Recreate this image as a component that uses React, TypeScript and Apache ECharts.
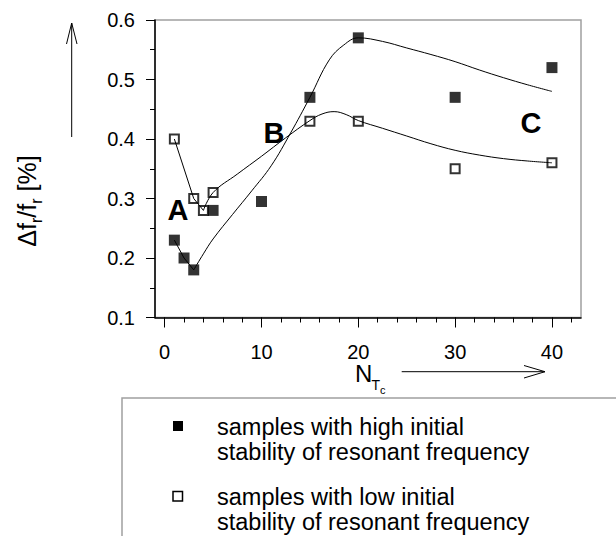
import React, { useEffect, useRef } from "react";
import * as echarts from "echarts";

// measured samples
const highX = [1, 2, 3, 5, 10, 15, 20, 30, 40];
const highY = [0.23, 0.2, 0.18, 0.28, 0.295, 0.47, 0.57, 0.47, 0.52];
const lowX = [1, 3, 4, 5, 15, 20, 30, 40];
const lowY = [0.4, 0.3, 0.28, 0.31, 0.43, 0.43, 0.35, 0.36];

// straight connections at low N
const highLinkX = [1, 2, 3];
const highLinkY = [0.23, 0.2, 0.18];
const lowLinkX = [1, 3, 4];
const lowLinkY = [0.4, 0.3, 0.28];

// fitted curves
const highFitX = [3, 4, 5, 7, 9, 11, 13, 15, 17, 18.5, 20, 22.5, 25, 27.5, 30, 32.5, 35, 37.5, 40];
const highFitY = [0.18, 0.207, 0.232, 0.273, 0.313, 0.355, 0.41, 0.47, 0.533, 0.558, 0.57, 0.564, 0.553, 0.542, 0.53, 0.516, 0.503, 0.491, 0.48];
const lowFitX = [4, 5, 7.5, 10, 12.5, 15, 16.25, 17.5, 18.75, 20, 22.5, 25, 27.5, 30, 32.5, 35, 37.5, 40];
const lowFitY = [0.28, 0.31, 0.341, 0.371, 0.402, 0.431, 0.442, 0.446, 0.441, 0.431, 0.418, 0.405, 0.392, 0.381, 0.373, 0.367, 0.363, 0.36];

const xMajorTicks = [0, 10, 20, 30, 40];
const xMinorTicks = [0, 2, 4, 6, 8, 10, 12, 14, 16, 18, 20, 22, 24, 26, 28, 30, 32, 34, 36, 38, 40, 42];

const legendHigh = ["samples with high initial", "stability of resonant frequency"];
const legendLow = ["samples with low initial", "stability of resonant frequency"];

const FONT = "'Liberation Sans', Arial, sans-serif";

const zip = (xs: number[], ys: number[]) => xs.map((x, i) => [x, ys[i]]);

export default function App() {
  const ref = useRef<HTMLDivElement>(null);
  useEffect(() => {
    document.body.style.margin = "0";
    const chart = echarts.init(ref.current!, null, { renderer: "svg" });
    const lineCommon = {
      type: "line",
      symbol: "none",
      lineStyle: { color: "#000", width: 1 },
      z: 4,
      silent: true,
    };
    const textBase = { fill: "#000", fontFamily: FONT };
    chart.setOption({
      animation: false,
      backgroundColor: "#fff",
      grid: {
        left: 155,
        top: 20,
        width: 426,
        height: 297.5,
        show: true,
        borderColor: "#a0a0a0",
        borderWidth: 1.5,
        backgroundColor: "transparent",
      },
      xAxis: [
        {
          type: "value",
          min: -1,
          max: 43,
          position: "bottom",
          axisLine: { show: true, onZero: false, lineStyle: { color: "#000", width: 1.5 } },
          axisTick: { show: true, customValues: xMajorTicks, length: 10, lineStyle: { color: "#000", width: 1 } },
          axisLabel: { customValues: xMajorTicks, fontSize: 20, color: "#000", margin: 24, fontFamily: FONT },
          splitLine: { show: false },
        },
        {
          type: "value",
          min: -1,
          max: 43,
          position: "bottom",
          axisLine: { show: false, onZero: false },
          axisTick: { show: true, customValues: xMinorTicks, length: 5, lineStyle: { color: "#000", width: 1 } },
          axisLabel: { show: false },
          splitLine: { show: false },
        },
      ],
      yAxis: {
        type: "value",
        min: 0.1,
        max: 0.6,
        interval: 0.1,
        axisLine: { show: true, onZero: false, lineStyle: { color: "#000", width: 1.5 } },
        axisTick: { show: true, length: 9, lineStyle: { color: "#000", width: 1 } },
        minorTick: { show: true, splitNumber: 2, length: 5, lineStyle: { color: "#000", width: 1 } },
        axisLabel: {
          fontSize: 20,
          color: "#000",
          margin: 20,
          fontFamily: FONT,
          formatter: (v: number) => v.toFixed(1),
        },
        splitLine: { show: false },
        minorSplitLine: { show: false },
      },
      series: [
        {
          name: "high",
          type: "scatter",
          symbol: "rect",
          symbolSize: 11,
          itemStyle: { color: "#000" },
          data: zip(highX, highY),
          z: 3,
        },
        {
          name: "low",
          type: "scatter",
          symbol: "rect",
          symbolSize: 9,
          itemStyle: { color: "#fff", borderColor: "#000", borderWidth: 2 },
          data: zip(lowX, lowY),
          z: 3,
        },
        { ...lineCommon, name: "highLink", data: zip(highLinkX, highLinkY) },
        { ...lineCommon, name: "highFit", smooth: 0.4, data: zip(highFitX, highFitY) },
        { ...lineCommon, name: "lowLink", data: zip(lowLinkX, lowLinkY) },
        { ...lineCommon, name: "lowFit", smooth: 0.4, data: zip(lowFitX, lowFitY) },
      ],
      graphic: [
        // region labels
        { type: "text", x: 178, y: 210, style: { ...textBase, text: "A", fontSize: 29, fontWeight: "bold", align: "center", verticalAlign: "middle" } },
        { type: "text", x: 274, y: 133, style: { ...textBase, text: "B", fontSize: 29, fontWeight: "bold", align: "center", verticalAlign: "middle" } },
        { type: "text", x: 531, y: 123, style: { ...textBase, text: "C", fontSize: 29, fontWeight: "bold", align: "center", verticalAlign: "middle" } },
        // y-axis name
        {
          type: "text",
          x: 28,
          y: 201,
          rotation: Math.PI / 2,
          style: {
            ...textBase,
            text: "{m|Δf}{s|r}{m|/f}{s|r}{m| [%]}",
            align: "center",
            verticalAlign: "middle",
            rich: {
              m: { fontSize: 25, lineHeight: 28, verticalAlign: "top", fontFamily: FONT, fill: "#000" },
              s: { fontSize: 16, lineHeight: 16, padding: [14, 0, 0, 0], verticalAlign: "top", fontFamily: FONT, fill: "#000" },
            },
          },
        },
        // up arrow
        { type: "polyline", shape: { points: [[71.7, 137], [71.7, 23]] }, style: { stroke: "#000", lineWidth: 1, fill: "none" } },
        { type: "polyline", shape: { points: [[66.5, 44], [71.7, 23], [77, 44]] }, style: { stroke: "#000", lineWidth: 1, fill: "none" } },
        // x-axis name
        { type: "text", x: 355, y: 373.7, style: { ...textBase, text: "N", fontSize: 24, align: "left", verticalAlign: "middle" } },
        { type: "text", x: 371.5, y: 385, style: { ...textBase, text: "T", fontSize: 14, align: "left", verticalAlign: "middle" } },
        { type: "text", x: 380, y: 389.5, style: { ...textBase, text: "c", fontSize: 11, align: "left", verticalAlign: "middle" } },
        // right arrow
        { type: "polyline", shape: { points: [[401.7, 371.7], [545, 371.7]] }, style: { stroke: "#000", lineWidth: 1, fill: "none" } },
        { type: "polyline", shape: { points: [[524, 365.5], [545, 371.7], [524, 378]] }, style: { stroke: "#000", lineWidth: 1, fill: "none" } },
        // legend box
        { type: "rect", shape: { x: 122, y: 398, width: 560, height: 220 }, style: { fill: "none", stroke: "#a0a0a0", lineWidth: 1.5 } },
        { type: "rect", shape: { x: 173, y: 421, width: 10, height: 10 }, style: { fill: "#000" } },
        { type: "rect", shape: { x: 173, y: 491.5, width: 9.5, height: 9.5 }, style: { fill: "#fff", stroke: "#000", lineWidth: 1.5 } },
        { type: "text", x: 217, y: 426.5, style: { ...textBase, text: legendHigh[0], fontSize: 23.5, align: "left", verticalAlign: "middle" } },
        { type: "text", x: 217, y: 451.5, style: { ...textBase, text: legendHigh[1], fontSize: 23.5, align: "left", verticalAlign: "middle" } },
        { type: "text", x: 217, y: 496.5, style: { ...textBase, text: legendLow[0], fontSize: 23.5, align: "left", verticalAlign: "middle" } },
        { type: "text", x: 217, y: 521.5, style: { ...textBase, text: legendLow[1], fontSize: 23.5, align: "left", verticalAlign: "middle" } },
      ],
    });
    return () => chart.dispose();
  }, []);
  return <div ref={ref} style={{ width: 616, height: 536, position: "absolute", left: 0, top: 0 }} />;
}
